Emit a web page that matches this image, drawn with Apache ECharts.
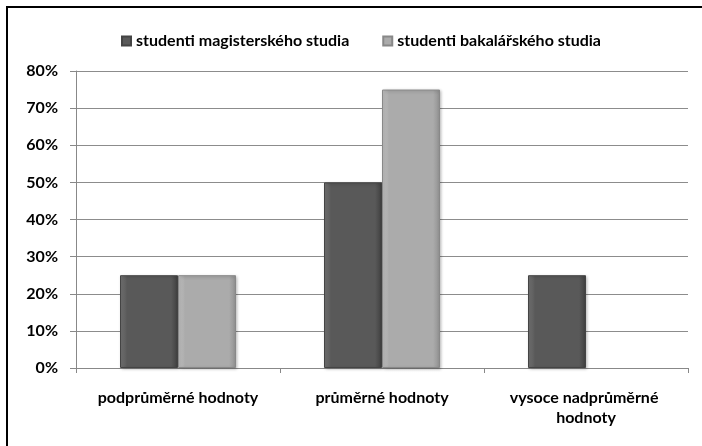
<!DOCTYPE html>
<html>
<head>
<meta charset="utf-8">
<script src="https://cdn.jsdelivr.net/npm/echarts@6/dist/echarts.min.js"></script>
<style>
html,body{margin:0;padding:0;background:#fff;}
#c{width:702px;height:446px;}
</style>
</head>
<body>
<div id="c"></div>
<script>
const categories = ['podprůměrné hodnoty', 'průměrné hodnoty', 'vysoce nadprůměrné hodnoty'];
const seriesNames = ['studenti magisterského studia', 'studenti bakalářského studia'];
const magisterValues = [25, 50, 25];
const bakalarValues = [25, 75, 0];
const yTicks = [0, 10, 20, 30, 40, 50, 60, 70, 80];

const font = 'Lato, "Open Sans", sans-serif';
function grad(c1, c2, c3) {
  return new echarts.graphic.LinearGradient(0, 0, 1, 0, [
    {offset: 0, color: c1}, {offset: 0.12, color: c2}, {offset: 0.88, color: c2}, {offset: 1, color: c3}
  ]);
}
function toData(arr) {
  return arr.map(v => v === 0 ? {value: v, itemStyle: {borderWidth: 0, shadowBlur: 0, shadowOffsetX: 0, shadowOffsetY: 0, opacity: 0}} : v);
}
const chart = echarts.init(document.getElementById('c'), null, {renderer: 'canvas'});
chart.setOption({
  animation: false,
  backgroundColor: '#fff',
  graphic: [{
    type: 'rect', shape: {x: 7, y: 7, width: 720, height: 460},
    style: {fill: 'none', stroke: '#000', lineWidth: 2}, silent: true
  }],
  legend: {
    top: 28, left: 116,
    itemWidth: 9, itemHeight: 9, itemGap: 33,
    icon: 'rect',
    textStyle: {fontFamily: font, fontWeight: 'bold', fontSize: 16, color: '#000'},
    data: seriesNames
  },
  grid: {left: 76, right: 14, top: 71, bottom: 78, containLabel: false},
  xAxis: {
    type: 'category', data: categories,
    axisLine: {lineStyle: {color: '#888'}},
    axisTick: {show: true, length: 5, lineStyle: {color: '#888'}},
    axisLabel: {
      fontFamily: font, fontWeight: 'bold', fontSize: 16, color: '#000',
      margin: 20, width: 200, overflow: 'break', lineHeight: 20, interval: 0
    }
  },
  yAxis: {
    type: 'value', min: 0, max: 80, interval: 10,
    axisLine: {show: true, lineStyle: {color: '#888'}},
    axisTick: {show: true, length: 6, lineStyle: {color: '#888'}},
    splitLine: {lineStyle: {color: '#8c8c8c'}},
    axisLabel: {
      fontFamily: font, fontWeight: 'bold', fontSize: 16, color: '#000', margin: 18,
      formatter: v => yTicks.includes(v) ? v + '%' : ''
    }
  },
  series: [
    {
      name: seriesNames[0], type: 'bar', data: toData(magisterValues),
      barWidth: 58, barGap: '0%',
      itemStyle: {color: grad('#777', '#595959', '#3f3f3f'), borderColor: '#444', borderWidth: 1,
        shadowColor: 'rgba(0,0,0,0.25)', shadowBlur: 3, shadowOffsetX: 1, shadowOffsetY: 1}
    },
    {
      name: seriesNames[1], type: 'bar', data: toData(bakalarValues),
      barWidth: 58, barGap: '0%',
      itemStyle: {color: grad('#c4c4c4', '#ababab', '#909090'), borderColor: '#888', borderWidth: 1,
        shadowColor: 'rgba(0,0,0,0.25)', shadowBlur: 3, shadowOffsetX: 1, shadowOffsetY: 1}
    }
  ]
});
</script>
</body>
</html>
